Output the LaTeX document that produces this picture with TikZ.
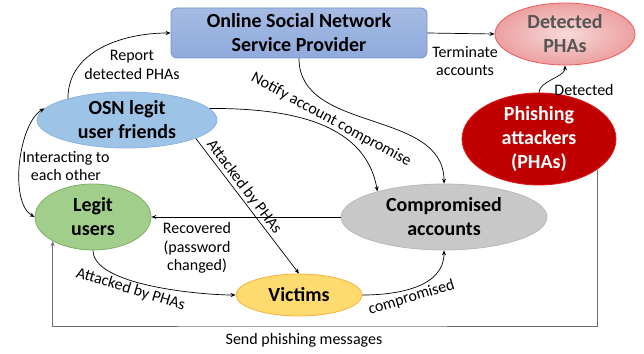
\documentclass[tikz,border=0pt]{standalone}
\usepackage{fontspec}
\setmainfont{Carlito}
\usetikzlibrary{shapes.geometric,arrows.meta}

\definecolor{spfill}{RGB}{143,170,220}
\definecolor{spedge}{RGB}{118,146,210}
\definecolor{dpfill}{RGB}{236,160,160}
\definecolor{dpedge}{RGB}{238,90,90}
\definecolor{dptext}{RGB}{85,85,85}
\definecolor{offill}{RGB}{157,195,230}
\definecolor{ofedge}{RGB}{140,180,222}
\definecolor{pafill}{RGB}{192,0,0}
\definecolor{paedge}{RGB}{225,25,25}
\definecolor{lufill}{RGB}{162,206,140}
\definecolor{luedge}{RGB}{125,175,100}
\definecolor{cafill}{RGB}{200,200,200}
\definecolor{caedge}{RGB}{185,185,185}
\definecolor{vifill}{RGB}{255,218,110}
\definecolor{viedge}{RGB}{244,178,60}
\definecolor{sendgray}{RGB}{110,110,110}

\begin{document}
\begin{tikzpicture}[x=1pt,y=1pt,>={Stealth[length=5pt,width=4pt]},
    place/.style={ellipse,draw,line width=0.8pt,inner sep=0pt,align=center,
      font=\fontsize{20}{24}\selectfont\bfseries},
    lbl/.style={align=center,inner sep=0pt,font=\fontsize{16}{18.5}\selectfont},
    link/.style={->,line width=0.7pt}]
\useasboundingbox (0,0) rectangle (644,353);

\node[draw=spedge,line width=0.8pt,rounded corners=6pt,top color=spfill!80!white,bottom color=spfill,
      minimum width=256,minimum height=50,align=center,
      font=\fontsize{20}{24}\selectfont\bfseries] (SP) at (299,320) {Online Social Network\\Service Provider};
\node[place,draw=dpedge,inner color=dpfill!40!white,outer color=dpfill,text=dptext,
      minimum width=140,minimum height=62] (DP) at (565,319) {Detected\\PHAs};
\node[place,draw=ofedge,fill=offill,minimum width=180,minimum height=56] (OF) at (127,233) {OSN legit\\user friends};
\node[place,draw=paedge,fill=pafill,text=white,minimum width=154,minimum height=78] (PA) at (539,214) {Phishing\\attackers\\(PHAs)};
\node[place,draw=luedge,fill=lufill,minimum width=116,minimum height=66] (LU) at (93,136) {Legit\\users};
\node[place,draw=caedge,fill=cafill,minimum width=206,minimum height=66] (CA) at (444,136) {Compromised\\accounts};
\node[place,draw=viedge,fill=vifill,minimum width=126,minimum height=42] (VI) at (299,58) {Victims};

\coordinate (sendMid) at (300,27);

\path[link] (OF.160) edge[out=90,in=180] (SP.west)
            (SP.east) edge (DP.west)
            (PA.north) edge[out=90,in=-90,looseness=.8] (DP.south)
            (SP.south) edge[out=-90,in=90] (CA.north)
            (OF.8) edge[out=0,in=100] node[lbl,sloped,above=1.5pt,pos=.56,rotate=-3] {Notify account compromise} (CA.159)
            (OF.-15) edge node[lbl,sloped,above=1.5pt,pos=.4] {Attacked by PHAs} (VI.north)
            (CA.west) edge (LU.east)
            (LU.south) edge[out=-90,in=180,looseness=.6] node[lbl,sloped,below=1.5pt,pos=.4] {Attacked by PHAs} (VI.west)
            (VI.east) edge[out=0,in=-90] node[lbl,sloped,below=1.5pt,pos=.42] {compromised} (CA.south);
\draw[<->,line width=0.7pt] (LU.west) to[out=150,in=210,looseness=.7] (OF.172);
\draw[link,sendgray] (PA.-28) |- (sendMid) -| (LU.-149);

\node[lbl] (lReport) at (132,288) {Report\\detected PHAs};
\node[lbl] (lTerm) at (465,292) {Terminate\\accounts};
\node[lbl] (lDet) at (584,263) {Detected};
\node[lbl] (lInter) at (66,187) {Interacting to\\each other};
\node[lbl] (lRec) at (197,105) {Recovered\\(password\\changed)};
\node[lbl] (lSend) at (304,13) {Send phishing messages};
\end{tikzpicture}
\end{document}
